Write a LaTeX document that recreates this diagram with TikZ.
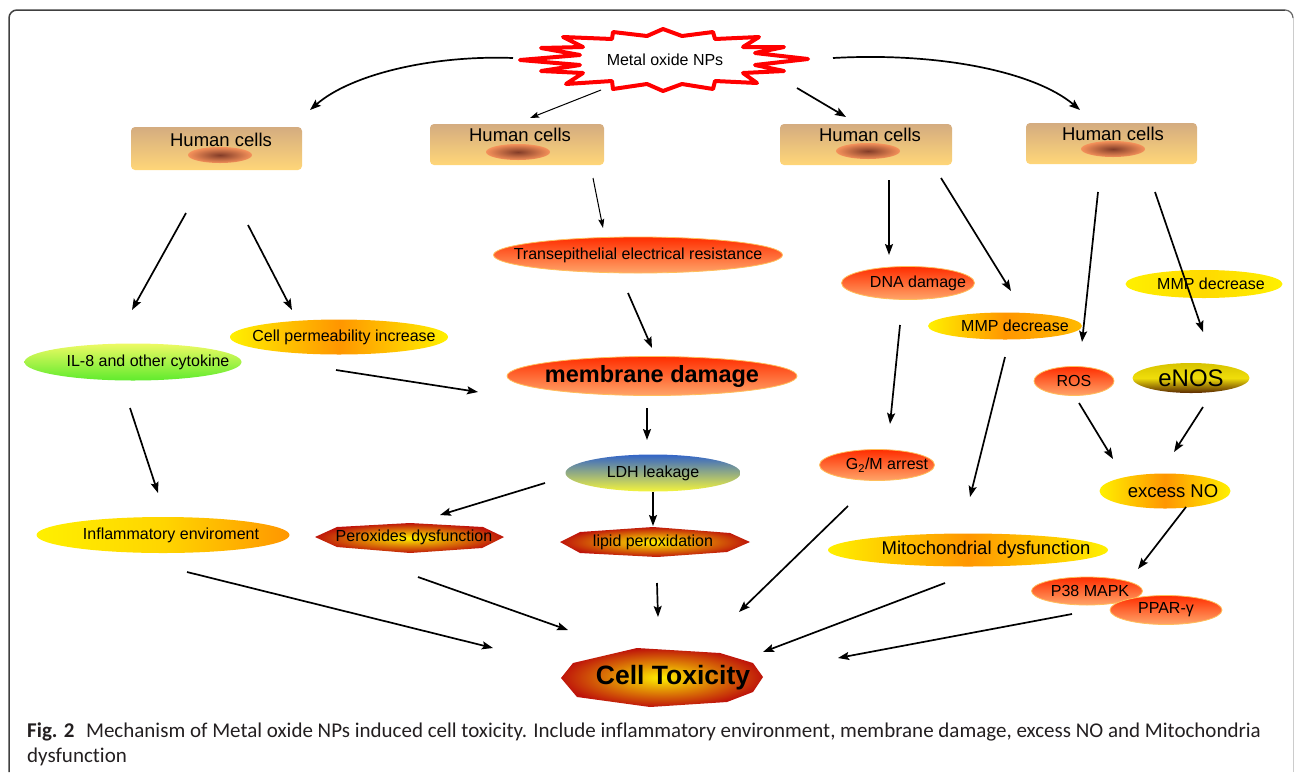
\documentclass[tikz,border=0pt]{standalone}
\usepackage{fontspec}
\setmainfont{Liberation Sans}
\newfontfamily\capfont[Ligatures=NoCommon]{Carlito}
\usetikzlibrary{arrows.meta,shapes.geometric}
\definecolor{ylw}{RGB}{255,240,0}
\definecolor{org}{RGB}{255,150,0}
\definecolor{rtop}{RGB}{255,45,0}
\definecolor{rbot}{RGB}{255,165,105}
\definecolor{redge}{RGB}{255,190,90}
\definecolor{darkred}{RGB}{190,20,10}
\definecolor{celltop}{RGB}{212,172,128}
\definecolor{cellbot}{RGB}{255,214,120}
\definecolor{nucin}{RGB}{130,60,40}
\definecolor{nucout}{RGB}{245,145,90}
\definecolor{ilt}{RGB}{238,250,100}
\definecolor{ilb}{RGB}{95,235,45}
\definecolor{ldht}{RGB}{50,100,200}
\definecolor{ldhb}{RGB}{245,245,60}
\definecolor{enost}{RGB}{215,195,0}
\definecolor{enosm}{RGB}{240,222,10}
\definecolor{enosb}{RGB}{90,40,0}
\definecolor{captxt}{RGB}{35,31,32}
\tikzset{
  lb/.style={font=\fontsize{16}{18}\selectfont, inner sep=0pt, text=black},
  lbbig/.style={font=\fontsize{18.5}{20}\selectfont, inner sep=0pt, text=black},
  ell/.style={ellipse, inner sep=0pt},
  redell/.style={ell, top color=rtop, bottom color=rbot, draw=redge, line width=0.8pt},
  yoell/.style={ell, left color=ylw, right color=ylw, middle color=org},
  arr/.style={line width=1.7pt, -{Stealth[length=11pt,width=8pt,inset=2pt]}},
  thinarr/.style={line width=1pt, -{Stealth[length=9pt,width=6pt,inset=1.5pt]}},
  cellbox/.style={rectangle, rounded corners=4pt, top color=celltop, bottom color=cellbot, inner sep=0pt},
  nucleus/.style={ellipse, inner color=nucin, outer color=nucout, minimum width=64pt, minimum height=16pt, inner sep=0pt},
  celltxt/.style={font=\fontsize{18.5}{20}\selectfont, anchor=base, inner sep=0pt},
  hotpoly/.style={inner color=ylw, outer color=darkred},
  captext/.style={anchor=base west, inner sep=0pt, text=captxt, font=\capfont\fontsize{21}{24}\selectfont},
}
\begin{document}
\begin{tikzpicture}[x=1pt,y=-1pt]
\useasboundingbox (0,0) rectangle (1295,772);
% frame
\draw[line width=1.5pt, color=black!75] (9,772) -- (9,18) arc[start angle=180,end angle=270,radius=8] -- (1285,10);
\draw[line width=1.2pt, color=black!60] (1285,10) arc[start angle=270,end angle=360,radius=8];
\draw[line width=1pt, color=black!20] (1293,18) -- (1293,772);

% starburst
\filldraw[draw=red, fill=white, line width=4pt, line join=round]
 (563,37) -- (612,39) -- (613,32) -- (647,36) -- (663,29) -- (682,36) -- (713,32) -- (715,39) -- (759,37) -- (743,47) -- (784,47) -- (755,53) -- (808,59) -- (755,65) -- (784,71) -- (743,73) -- (757,83) -- (715,81) -- (713,89) -- (682,84) -- (663,91) -- (647,84) -- (613,89) -- (612,81) -- (566,84) -- (583,73) -- (541,71) -- (580,65) -- (520,60) -- (580,55) -- (541,48) -- (583,47) -- cycle;
\node[lb] (nps) at (665,60) {Metal oxide NPs};

% human cells
\node[cellbox, minimum width=171pt, minimum height=43pt] (hc1) at (216.5,148.5) {};
\node[nucleus] (nu1) at (220,155) {};
\node[celltxt] (hc1t) at (221,146) {Human cells};
\node[cellbox, minimum width=174pt, minimum height=41pt] (hc2) at (517,144.5) {};
\node[nucleus] (nu2) at (518,152) {};
\node[celltxt] (hc2t) at (520,141) {Human cells};
\node[cellbox, minimum width=172pt, minimum height=41pt] (hc3) at (866,144.5) {};
\node[nucleus] (nu3) at (868,151) {};
\node[celltxt] (hc3t) at (870,141) {Human cells};
\node[cellbox, minimum width=171pt, minimum height=41pt] (hc4) at (1111.5,143.5) {};
\node[nucleus] (nu4) at (1113,149) {};
\node[celltxt] (hc4t) at (1113,140) {Human cells};

% column 1
\node[ell, top color=ilt, bottom color=ilb, minimum width=217pt, minimum height=37pt,
  label={[lb, xshift=15pt]center:IL-8 and other cytokine}] (il8) at (133,362) {};
\node[yoell, minimum width=218pt, minimum height=35pt,
  label={[lb, xshift=5pt]center:Cell permeability increase}] (perm) at (339,337) {};
\node[ell, left color=ylw, right color=org, middle color=ylw!70!org, minimum width=253pt, minimum height=36pt,
  label={[lb, xshift=8pt]center:Inflammatory enviroment}] (infl) at (163,535) {};

% column 2
\node[redell, minimum width=289pt, minimum height=36pt,
  label={[lb]center:Transepithelial electrical resistance}] (teer) at (638,255) {};
\node[redell, minimum width=290pt, minimum height=39pt,
  label={[inner sep=0pt, font=\fontsize{23.5}{26}\bfseries]center:membrane damage}] (mem) at (652,376) {};
\node[ell, top color=ldht, bottom color=ldhb, minimum width=175pt, minimum height=37pt,
  label={[lb]center:LDH leakage}] (ldh) at (653,473) {};
\shade[hotpoly] (315,537) -- (337,527) -- (410,523) -- (483,527) -- (504,537) -- (482,548) -- (410,553) -- (337,547) -- cycle;
\node[lb] (perox) at (414,537) {Peroxides dysfunction};
\shade[hotpoly] (560,542) -- (580,532) -- (653,527) -- (730,533) -- (750,542) -- (727,552) -- (657,557) -- (580,553) -- cycle;
\node[lb] (lipid) at (653,542) {lipid peroxidation};

% column 3
\node[redell, minimum width=133pt, minimum height=33pt,
  label={[lb, xshift=10pt]center:DNA damage}] (dna) at (908,283) {};
\node[ell, left color=ylw, right color=ylw!40!org, middle color=org, minimum width=154pt, minimum height=27pt,
  label={[lb, xshift=10pt]center:MMP decrease}] (mmpa) at (1005,326) {};
\node[redell, minimum width=115pt, minimum height=31pt,
  label={[lb, xshift=10pt]center:G\textsubscript{2}/M arrest}] (g2m) at (877,465) {};
\node[yoell, minimum width=280pt, minimum height=33pt,
  label={[lbbig, xshift=18pt]center:Mitochondrial dysfunction}] (mito) at (968,550) {};

% column 4
\node[ell, left color=ylw, right color=ylw, middle color=ylw!75!org, minimum width=157pt, minimum height=28pt,
  label={[lb, xshift=7pt]center:MMP decrease}] (mmpb) at (1204,284) {};
\node[redell, minimum width=80pt, minimum height=29pt,
  label={[lb]center:ROS}] (ros) at (1074,381) {};
\node[ell, top color=enost, bottom color=enosb, middle color=enosm, minimum width=117pt, minimum height=30pt,
  label={[inner sep=0pt, font=\fontsize{24}{26}\selectfont]center:eNOS}] (enos) at (1191,378) {};
\node[yoell, minimum width=131pt, minimum height=35pt,
  label={[lbbig, xshift=8pt]center:excess NO}] (exno) at (1165,491) {};
\node[redell, minimum width=111pt, minimum height=28pt,
  label={[lb, xshift=3pt]center:P38 MAPK}] (p38) at (1087,591) {};
\node[redell, minimum width=112pt, minimum height=29pt,
  label={[lb]center:PPAR-γ}] (ppar) at (1166,610) {};

% cell toxicity
\shade[inner color=ylw, outer color=darkred] (561,678) -- (573,663) -- (637,648) -- (720,653) -- (753,663) -- (763,677) -- (753,692) -- (727,702) -- (650,707) -- (577,697) -- cycle;
\node[inner sep=0pt, font=\fontsize{26.5}{28}\bfseries] (tox) at (673,678) {Cell Toxicity};

% arrow end points
\foreach \n/\x/\y in {a1s/513/58, a1e/310/110, a2s/601/90, a2e/530/118, a3s/797/88, a3e/846/117,
  a4s/833/58, a4e/1080/110, a5s/186/213, a5e/132/310, a6s/248/225, a6e/292/310,
  a7s/130/408, a7e/158/493, a8s/336/370, a8e/478/392, a9s/187/572, a9e/493/648,
  a10s/593/178, a10e/603/228, a11s/628/293, a11e/652/348, a12s/647/408, a12e/647/440,
  a13s/545/483, a13e/440/515, a14s/653/492, a14e/653/526, a15s/418/577, a15e/568/630,
  a16s/657/583, a16e/658/617, a17s/889/180, a17e/889/255, a18s/941/178, a18e/1011/291,
  a19s/900/325, a19e/890/424, a20s/1005/357, a20e/970/497, a21s/848/506, a21e/739/612,
  a22s/945/583, a22e/763/652, a23s/1098/192, a23e/1082/342, a24s/1155/192, a24e/1203/332,
  a25s/1079/403, a25e/1113/459, a26s/1203/407, a26e/1174/452, a27s/1186/507, a27e/1138/569,
  a28s/1072/614, a28e/838/658}
  \coordinate (\n) at (\x,\y);

\draw[arr] (a1s) .. controls (430,55) and (350,75) .. (a1e);
\draw[thinarr] (a2s) -- (a2e);
\draw[arr] (a3s) -- (a3e);
\draw[arr] (a4s) .. controls (940,52) and (1035,72) .. (a4e);
\foreach \k in {5,6,7,8,9,11,12,13,14,15,16,17,18,19,20,21,22,23,24,25,26,27,28}
  \draw[arr] (a\k s) -- (a\k e);
\draw[thinarr] (a10s) -- (a10e);

% caption
\node[captext] (cap1) at (27,737)
  {\textbf{Fig. 2}\hspace{0.55em}Mechanism of Metal oxide NPs induced cell toxicity. Include inflammatory environment, membrane damage, excess NO and Mitochondria};
\node[captext] (cap2) at (27,762) {dysfunction};
\end{tikzpicture}
\end{document}
